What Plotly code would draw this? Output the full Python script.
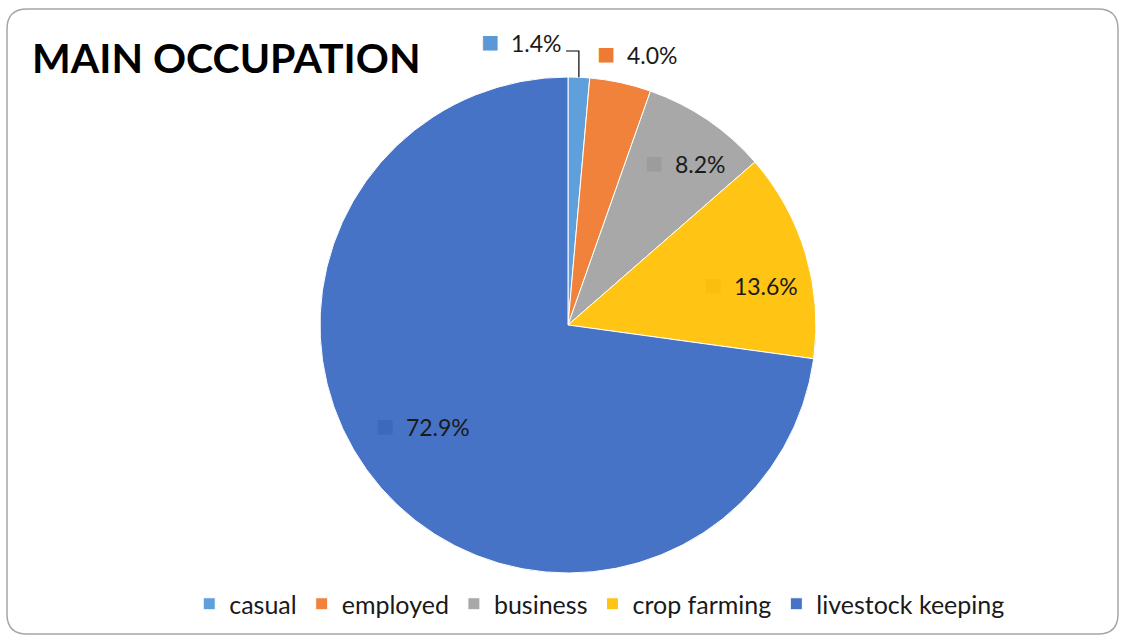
import math
import plotly.graph_objects as go

# Main occupation of respondents (percent of households)
categories = ["casual", "employed", "business", "crop farming", "livestock keeping"]
shares = [1.4, 4.0, 8.2, 13.6, 72.9]
slice_colors = ["#5f9fdc", "#f0823c", "#a8a8a8", "#ffc414", "#4673c6"]
marker_colors = ["#5a98d8", "#ee7a33", "#9c9c9c", "#f8bf10", "#3d68bc"]
title_text = "MAIN OCCUPATION"

W, H = 1121, 635
FONT = "Lato, 'Open Sans', sans-serif"

# Pie geometry in pixels (centre and radius)
CX, CY, R = 568, 325, 248

# Data-label block centres in pixels (layout only)
label_pos_px = [(521, 44), (637, 56), (685, 165), (751, 287), (423, 428)]


def px(x, y):
    return x / W, 1 - y / H


fig = go.Figure()
fig.add_trace(go.Pie(
    labels=categories,
    values=shares,
    textinfo="none",
    sort=False,
    direction="clockwise",
    rotation=0,
    marker=dict(colors=slice_colors, line=dict(color="#ffffff", width=1)),
    domain=dict(x=[(CX - R) / W, (CX + R) / W], y=[(H - CY - R) / H, (H - CY + R) / H]),
    showlegend=True,
    hoverinfo="label+value",
))

annotations = [dict(
    text=f"<b>{title_text}</b>", x=30 / W, y=1 - 57 / H,
    xref="paper", yref="paper", xanchor="left", yanchor="middle",
    showarrow=False, font=dict(family=FONT, size=41, color="#000000"),
)]
for v, mc, (lx, ly) in zip(shares, marker_colors, label_pos_px):
    ax, ay = px(lx, ly)
    annotations.append(dict(
        text=f"<span style='color:{mc};font-size:30px'>■</span>\u00a0\u00a0{v:.1f}%",
        x=ax, y=ay, xref="paper", yref="paper", yshift=4,
        xanchor="center", yanchor="middle", showarrow=False,
        font=dict(family=FONT, size=23, color="#1a1a1a"),
    ))

# Rounded frame around the whole chart area (paper coordinates)
x0, x1 = 7 / W, 1118 / W
y0, y1 = 1 - 634 / H, 1 - 9 / H
rx, ry = 20 / W, 20 / H
frame = (
    f"M {x0 + rx},{y1} L {x1 - rx},{y1} Q {x1},{y1} {x1},{y1 - ry} "
    f"L {x1},{y0 + ry} Q {x1},{y0} {x1 - rx},{y0} "
    f"L {x0 + rx},{y0} Q {x0},{y0} {x0},{y0 + ry} "
    f"L {x0},{y1 - ry} Q {x0},{y1} {x0 + rx},{y1} Z"
)

# Leader line for the smallest slice: from its outer edge up and to the left
mid_frac = shares[0] / 2 / sum(shares)
ex = CX + R * math.sin(2 * math.pi * mid_frac)
ey = CY - R * math.cos(2 * math.pi * mid_frac)
lx0, ly0 = px(ex, ey)
lx1, ly1 = px(ex, 51)
lx2, ly2 = px(566, 51)
leader = f"M {lx0},{ly0} L {lx1},{ly1} L {lx2},{ly2}"

fig.update_layout(
    width=W,
    height=H,
    margin=dict(l=0, r=0, t=0, b=0),
    paper_bgcolor="#ffffff",
    plot_bgcolor="#ffffff",
    font=dict(family=FONT, color="#1a1a1a"),
    shapes=[
        dict(type="path", path=frame, xref="paper", yref="paper",
             line=dict(color="#a6a6a6", width=1.5), layer="below"),
        dict(type="path", path=leader, xref="paper", yref="paper",
             line=dict(color="#000000", width=1.2)),
    ],
    annotations=annotations,
    legend=dict(
        orientation="h", x=0.535, xanchor="center", y=1 - 604 / H, yanchor="middle",
        font=dict(family=FONT, size=25, color="#1a1a1a"),
        traceorder="normal",
    ),
)

fig.write_html("out.html")
